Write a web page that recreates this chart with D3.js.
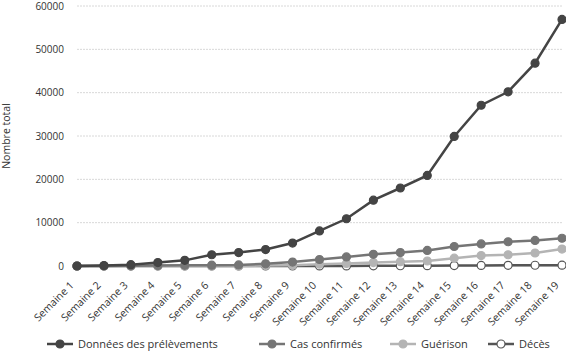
<!DOCTYPE html>
<html>
<head>
<meta charset="utf-8">
<script src="https://cdn.jsdelivr.net/npm/d3@7"></script>
<style>
body { margin: 0; background: #fff; }
text { font-family: "Open Sans", sans-serif; }
</style>
</head>
<body>
<div id="chart"></div>
<script>
var weeks = ["Semaine 1","Semaine 2","Semaine 3","Semaine 4","Semaine 5","Semaine 6","Semaine 7","Semaine 8","Semaine 9","Semaine 10",
  "Semaine 11","Semaine 12","Semaine 13","Semaine 14","Semaine 15","Semaine 16","Semaine 17","Semaine 18","Semaine 19"];
var prelevements = [0,100,300,800,1300,2600,3100,3800,5300,8100,10900,15200,18000,20900,29900,37100,40200,46800,56900];
var casConfirmes = [0,0,50,100,150,200,250,500,900,1500,2100,2700,3100,3600,4500,5100,5600,5900,6400];
var guerison = [0,0,0,0,0,0,0,100,200,400,600,800,1000,1150,1800,2400,2600,3000,3900];
var deces = [0,0,0,0,0,0,0,0,5,10,20,40,60,80,100,130,150,170,200];
var yTicks = [0,10000,20000,30000,40000,50000,60000];

var series = [
  {name: "Données des prélèvements", values: prelevements, color: "#444444", fill: "#444444"},
  {name: "Cas confirmés", values: casConfirmes, color: "#757575", fill: "#757575"},
  {name: "Guérison", values: guerison, color: "#b4b4b4", fill: "#b4b4b4"},
  {name: "Décès", values: deces, color: "#555555", fill: "#ffffff"}
];

var margin = {top: 6, right: 4, bottom: 86, left: 77};
var width = 566 - margin.left - margin.right;
var height = 352 - margin.top - margin.bottom;

var svg = d3.select("#chart")
  .append("svg")
    .attr("width", 566)
    .attr("height", 352)
  .append("g")
    .attr("transform", "translate(" + margin.left + "," + margin.top + ")");

var x = d3.scalePoint()
  .domain(weeks)
  .range([0, width]);

var y = d3.scaleLinear()
  .domain([0, 60000])
  .range([height, 0]);

// grid
svg.selectAll(".grid")
  .data(yTicks)
  .enter().append("line")
    .attr("x1", 0)
    .attr("x2", width)
    .attr("y1", function(d) { return y(d); })
    .attr("y2", function(d) { return y(d); })
    .attr("stroke", "#d8d8d8")
    .attr("stroke-width", 1)
    .attr("stroke-dasharray", function(d) { return d === 0 ? null : "2,1"; });

// y axis labels
var yAxis = svg.append("g")
  .call(d3.axisLeft(y).tickValues(yTicks).tickSize(0).tickPadding(13).tickFormat(d3.format("d")));
yAxis.select(".domain").remove();
yAxis.selectAll("text").attr("fill", "#333").style("font-size", "10px");

svg.append("text")
  .attr("transform", "translate(-67," + (height / 2) + ") rotate(-90)")
  .attr("text-anchor", "middle")
  .attr("fill", "#333")
  .style("font-size", "10.5px")
  .text("Nombre total");

// x axis labels
var xAxis = svg.append("g")
  .attr("transform", "translate(0," + height + ")")
  .call(d3.axisBottom(x).tickSize(0).tickPadding(0));
xAxis.select(".domain").remove();
xAxis.selectAll("text")
  .attr("fill", "#333")
  .style("font-size", "10.5px")
  .attr("text-anchor", "end")
  .attr("y", 0)
  .attr("dy", null)
  .attr("transform", "translate(-3,20) rotate(-45)");

var line = d3.line()
  .x(function(d, i) { return x(weeks[i]); })
  .y(function(d) { return y(d); });

series.slice().reverse().forEach(function(s) {
  svg.append("path")
    .datum(s.values)
    .attr("fill", "none")
    .attr("stroke", s.color)
    .attr("stroke-width", 2.5)
    .attr("d", line);
  svg.selectAll(null)
    .data(s.values)
    .enter().append("circle")
      .attr("cx", function(d, i) { return x(weeks[i]); })
      .attr("cy", function(d) { return y(d); })
      .attr("r", 4)
      .attr("fill", s.fill)
      .attr("stroke", s.color)
      .attr("stroke-width", 1.2);
});

// legend
var legendX = [47, 259, 390, 488];
var legend = d3.select("svg").append("g");
series.forEach(function(s, i) {
  var g = legend.append("g").attr("transform", "translate(" + legendX[i] + ",344)");
  g.append("line").attr("x1", 0).attr("x2", 26).attr("stroke", s.color).attr("stroke-width", 2.5);
  g.append("circle").attr("cx", 13).attr("r", 4).attr("fill", s.fill).attr("stroke", s.color).attr("stroke-width", 1.2);
  g.append("text").attr("x", 31).attr("y", 4).attr("fill", "#333").style("font-size", "11px").text(s.name);
});
</script>
</body>
</html>
